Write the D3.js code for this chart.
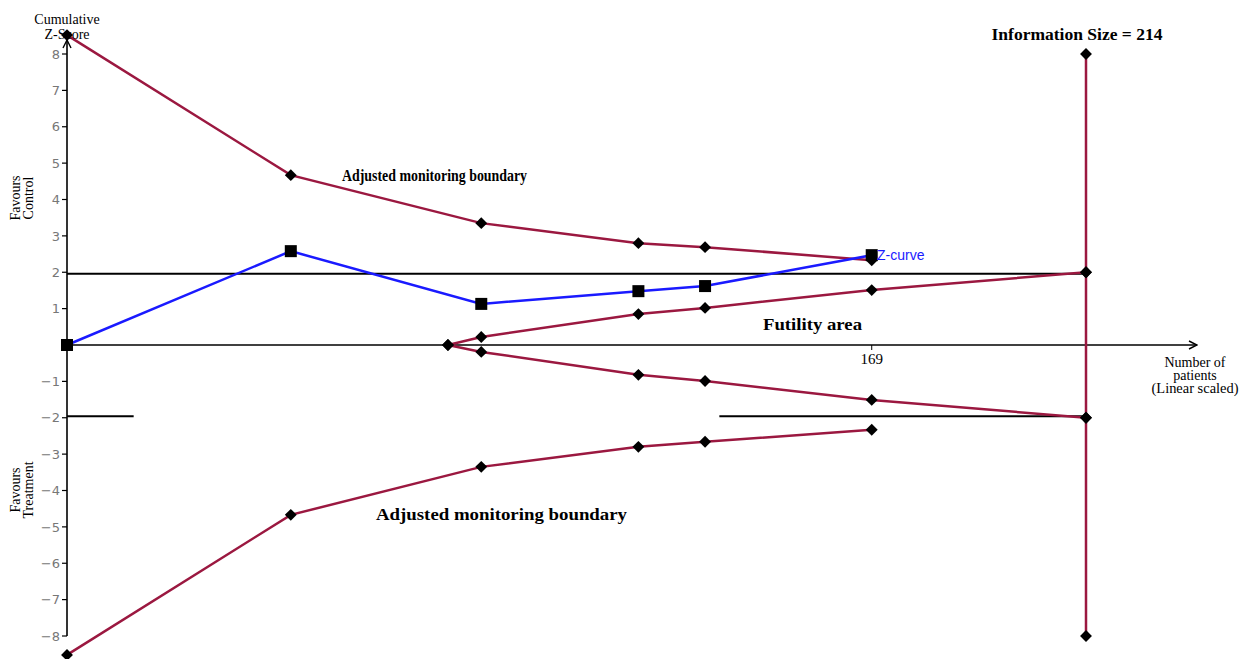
<!DOCTYPE html>
<head>
<meta charset="utf-8">
<title>Trial sequential analysis</title>
<style>
  body { margin: 0; background: #fff; }
  svg { display: block; }
</style>
</head>
<body>
<script src="https://d3js.org/d3.v7.min.js"></script>
<script>
// patients (x) for each cumulative look
let looks = [0, 47, 87, 120, 134, 169];
let infoSize = 214;

// adjusted monitoring boundaries (upper / lower)
let upperBoundary = [8.52, 4.67, 3.35, 2.80, 2.69, 2.33];
let lowerBoundary = [-8.52, -4.67, -3.35, -2.80, -2.66, -2.33];

// futility (inner wedge) boundaries
let futilityX = [80, 87, 120, 134, 169, 214];
let futilityUpper = [0, 0.22, 0.85, 1.02, 1.51, 2];
let futilityLower = [0, -0.19, -0.82, -0.99, -1.51, -2];

// cumulative z-curve
let zCurve = [0, 2.58, 1.13, 1.48, 1.62, 2.47];

let yTicks = [8, 7, 6, 5, 4, 3, 2, 1, -1, -2, -3, -4, -5, -6, -7, -8];
let xTicks = [169];

let width = 1247;
let height = 659;
let svg = d3.select("body").append("svg")
    .attr("width", width)
    .attr("height", height);

let x = d3.scaleLinear().domain([0, infoSize]).range([67, 1086]);
let y = d3.scaleLinear().domain([-8, 8]).range([636, 54]);

let red = "#9b1840";
let serif = "Liberation Serif, Times New Roman, serif";

// arrow marker
svg.append("defs").append("marker")
    .attr("id", "arr")
    .attr("viewBox", "0 0 10 10")
    .attr("refX", 9).attr("refY", 5)
    .attr("markerWidth", 10).attr("markerHeight", 10)
    .attr("markerUnits", "userSpaceOnUse")
    .attr("orient", "auto")
    .append("path")
    .attr("d", "M1,1 L9,5 L1,9")
    .attr("fill", "none")
    .attr("stroke", "#000")
    .attr("stroke-width", 1.4);

// x axis (z = 0)
svg.append("line")
    .attr("x1", x(0)).attr("x2", 1197)
    .attr("y1", y(0)).attr("y2", y(0))
    .attr("stroke", "#000").attr("stroke-width", 1.3)
    .attr("marker-end", "url(#arr)");

svg.selectAll(".xtick")
    .data(xTicks)
    .join("line")
    .attr("class", "xtick")
    .attr("x1", d => x(d)).attr("x2", d => x(d))
    .attr("y1", y(0)).attr("y2", y(0) + 5)
    .attr("stroke", "#000");

svg.selectAll(".xlabel")
    .data(xTicks)
    .join("text")
    .attr("class", "xlabel")
    .attr("x", d => x(d))
    .attr("y", y(0) + 19)
    .attr("text-anchor", "middle")
    .style("font-family", serif)
    .style("font-size", "15px")
    .text(d => d);

// y axis
svg.append("line")
    .attr("x1", x(0)).attr("x2", x(0))
    .attr("y1", y(-8)).attr("y2", 40)
    .attr("stroke", "#000").attr("stroke-width", 1.6)
    .attr("marker-end", "url(#arr)");

svg.selectAll(".ytick")
    .data(yTicks)
    .join("line")
    .attr("class", "ytick")
    .attr("x1", x(0) - 5).attr("x2", x(0))
    .attr("y1", d => y(d)).attr("y2", d => y(d))
    .attr("stroke", "#000").attr("stroke-width", 1.2);

svg.selectAll(".ylabel")
    .data(yTicks)
    .join("text")
    .attr("class", "ylabel")
    .attr("x", x(0) - 7)
    .attr("y", d => y(d))
    .attr("dy", "0.36em")
    .attr("text-anchor", "end")
    .style("font-family", "DejaVu Sans, sans-serif")
    .style("font-size", "13px")
    .attr("fill", "#777")
    .text(d => d < 0 ? "\u2212" + Math.abs(d) : d);

// conventional boundaries z = +2 / -2
svg.append("line")
    .attr("x1", x(0)).attr("x2", x(infoSize))
    .attr("y1", y(1.96)).attr("y2", y(1.96))
    .attr("stroke", "#000").attr("stroke-width", 2);

svg.append("line")
    .attr("x1", x(0)).attr("x2", x(14))
    .attr("y1", y(-1.96)).attr("y2", y(-1.96))
    .attr("stroke", "#000").attr("stroke-width", 2);

svg.append("line")
    .attr("x1", x(137)).attr("x2", x(infoSize))
    .attr("y1", y(-1.96)).attr("y2", y(-1.96))
    .attr("stroke", "#000").attr("stroke-width", 2);

// information size vertical line
svg.append("line")
    .attr("x1", x(infoSize)).attr("x2", x(infoSize))
    .attr("y1", y(8)).attr("y2", y(-8))
    .attr("stroke", red).attr("stroke-width", 2.5);

let line = d3.line()
    .x(d => x(d[0]))
    .y(d => y(d[1]));

function pairs(xs, ys) {
    return xs.map((v, i) => [v, ys[i]]);
}

let redSeries = [
    pairs(looks, upperBoundary),
    pairs(looks, lowerBoundary),
    pairs(futilityX, futilityUpper),
    pairs(futilityX, futilityLower)
];

svg.selectAll(".bound")
    .data(redSeries)
    .join("path")
    .attr("class", "bound")
    .attr("d", line)
    .attr("fill", "none")
    .attr("stroke", red)
    .attr("stroke-width", 2.5);

// z-curve
let zPts = pairs(looks, zCurve);
svg.append("path")
    .datum(zPts)
    .attr("d", line)
    .attr("fill", "none")
    .attr("stroke", "#1a1aff")
    .attr("stroke-width", 2.5);

// diamonds
let diamondPts = redSeries.flat().concat([
    [infoSize, 8], [infoSize, -8], [infoSize, 2], [infoSize, -2]
]);
let diamond = d3.symbol().type(d3.symbolDiamond2).size(90);
svg.selectAll(".dia")
    .data(diamondPts)
    .join("path")
    .attr("class", "dia")
    .attr("transform", d => `translate(${x(d[0])},${y(d[1])})`)
    .attr("d", diamond)
    .attr("fill", "#000");

// squares on z-curve
svg.selectAll(".sq")
    .data(zPts)
    .join("rect")
    .attr("class", "sq")
    .attr("x", d => x(d[0]) - 6)
    .attr("y", d => y(d[1]) - 6)
    .attr("width", 12)
    .attr("height", 12)
    .attr("fill", "#000");

// texts
function addText(tx, ty, str, size, bold, anchor, color, family, len) {
    let t = svg.append("text")
        .attr("x", tx).attr("y", ty)
        .attr("text-anchor", anchor || "start")
        .style("font-family", family || serif)
        .style("font-size", size + "px")
        .style("font-weight", bold ? "bold" : "normal")
        .attr("fill", color || "#000")
        .text(str);
    if (len) t.attr("textLength", len).attr("lengthAdjust", "spacingAndGlyphs");
    return t;
}

addText(67, 24, "Cumulative", 14, false, "middle");
addText(67, 39, "Z-Score", 14, false, "middle");

addText(1077, 40, "Information Size = 214", 17, true, "middle", null, null, 171);
addText(342, 181, "Adjusted monitoring boundary", 16, true, "start", null, null, 185);
addText(376, 520, "Adjusted monitoring boundary", 17, true, "start", null, null, 251);
addText(763, 330, "Futility area", 17, true, "start", null, null, 99);
addText(877, 260, "Z-curve", 14, false, "start", "#1a1aff", "Liberation Sans, Arial, sans-serif");

addText(1195, 367, "Number of", 14, false, "middle");
addText(1195, 380, "patients", 14, false, "middle");
addText(1195, 393, "(Linear scaled)", 14, false, "middle", null, null, 87);

// rotated side labels
function sideLabel(cy, l1, l2) {
    let g = svg.append("g")
        .attr("transform", `translate(22,${cy}) rotate(-90)`);
    g.append("text").attr("x", 0).attr("y", -2)
        .attr("text-anchor", "middle")
        .style("font-family", serif).style("font-size", "14px")
        .text(l1);
    g.append("text").attr("x", 0).attr("y", 11)
        .attr("text-anchor", "middle")
        .style("font-family", serif).style("font-size", "14px")
        .text(l2);
}
sideLabel(198, "Favours", "Control");
sideLabel(490, "Favours", "Treatment");
</script>
</body>
